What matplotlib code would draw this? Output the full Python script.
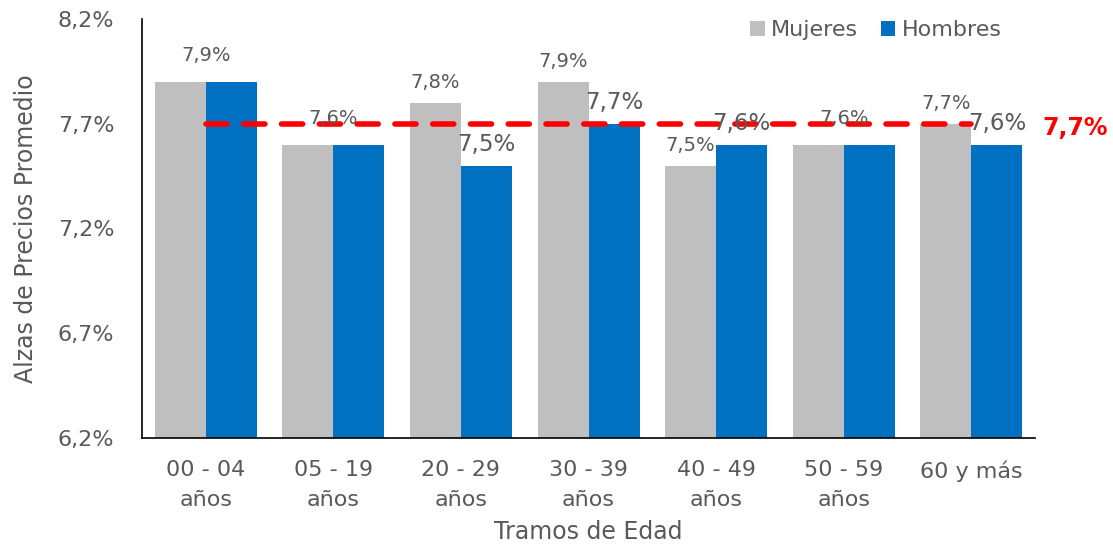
import matplotlib.pyplot as plt
import numpy as np

# Alzas de precios promedio por tramo de edad
tramos = ['00 - 04\naños', '05 - 19\naños', '20 - 29\naños', '30 - 39\naños',
          '40 - 49\naños', '50 - 59\naños', '60 y más']
mujeres = [7.9, 7.6, 7.8, 7.9, 7.5, 7.6, 7.7]
hombres = [7.9, 7.6, 7.5, 7.7, 7.6, 7.6, 7.6]
promedio = 7.7
y_ticks = [6.2, 6.7, 7.2, 7.7, 8.2]

gris = '#BFBFBF'
azul = '#0070C0'
texto = '#595959'

def pct(v):
    return f'{v:.1f}%'.replace('.', ',')

fig = plt.figure(figsize=(11.13, 5.49), dpi=100)
ax = fig.add_axes([0.1276, 0.2022, 0.8024, 0.7632])

x = np.arange(len(tramos))
w = 0.4
ax.bar(x - w / 2, mujeres, w, color=gris, label='Mujeres', zorder=2)
ax.bar(x + w / 2, hombres, w, color=azul, label='Hombres', zorder=2)

# etiquetas de datos (una sola cuando ambos valores coinciden)
for i in x:
    m, h = mujeres[i], hombres[i]
    if m == h:
        ax.annotate(pct(m), (i, m), xytext=(0, 12), textcoords='offset points',
                    ha='center', va='bottom', fontsize=14, color=texto, zorder=4)
    else:
        ax.annotate(pct(m), (i - w / 2, m), xytext=(0, 8), textcoords='offset points',
                    ha='center', va='bottom', fontsize=14, color=texto, zorder=4)
        ax.annotate(pct(h), (i + w / 2, h), xytext=(0, 7), textcoords='offset points',
                    ha='center', va='bottom', fontsize=16.5, color=texto, zorder=4)

# promedio general
ax.plot([x[0], x[-1]], [promedio, promedio], color='red', lw=4,
        dashes=(3.8, 3.0), dash_capstyle='round', zorder=3)
ax.annotate(pct(promedio), (1.0, promedio), xycoords=('axes fraction', 'data'),
            xytext=(5, -3), textcoords='offset points', ha='left', va='center',
            fontsize=17, fontweight='bold', color='red', annotation_clip=False)

ax.set_xlim(-0.5, len(tramos) - 0.5)
ax.set_ylim(6.2, 8.2)
ax.set_yticks(y_ticks)
ax.set_yticklabels([pct(v) for v in y_ticks], fontsize=16)
ax.set_xticks(x)
ax.set_xticklabels(tramos, fontsize=16, linespacing=1.6)
ax.tick_params(axis='both', length=0, colors=texto)
ax.tick_params(axis='y', pad=20)
ax.tick_params(axis='x', pad=16)

ax.set_ylabel('Alzas de Precios Promedio', fontsize=17, color=texto, labelpad=14)
ax.set_xlabel('Tramos de Edad', fontsize=17, color=texto, labelpad=7)

for s in ['top', 'right']:
    ax.spines[s].set_visible(False)
for s in ['left', 'bottom']:
    ax.spines[s].set_color('black')
    ax.spines[s].set_linewidth(1.2)

leg = ax.legend(loc='upper right', bbox_to_anchor=(0.985, 1.045), ncol=2, frameon=False,
                fontsize=16, handlelength=0.65, handleheight=0.65, handletextpad=0.3,
                columnspacing=1.0, labelcolor=texto)

fig.savefig('out.png', dpi=100)
